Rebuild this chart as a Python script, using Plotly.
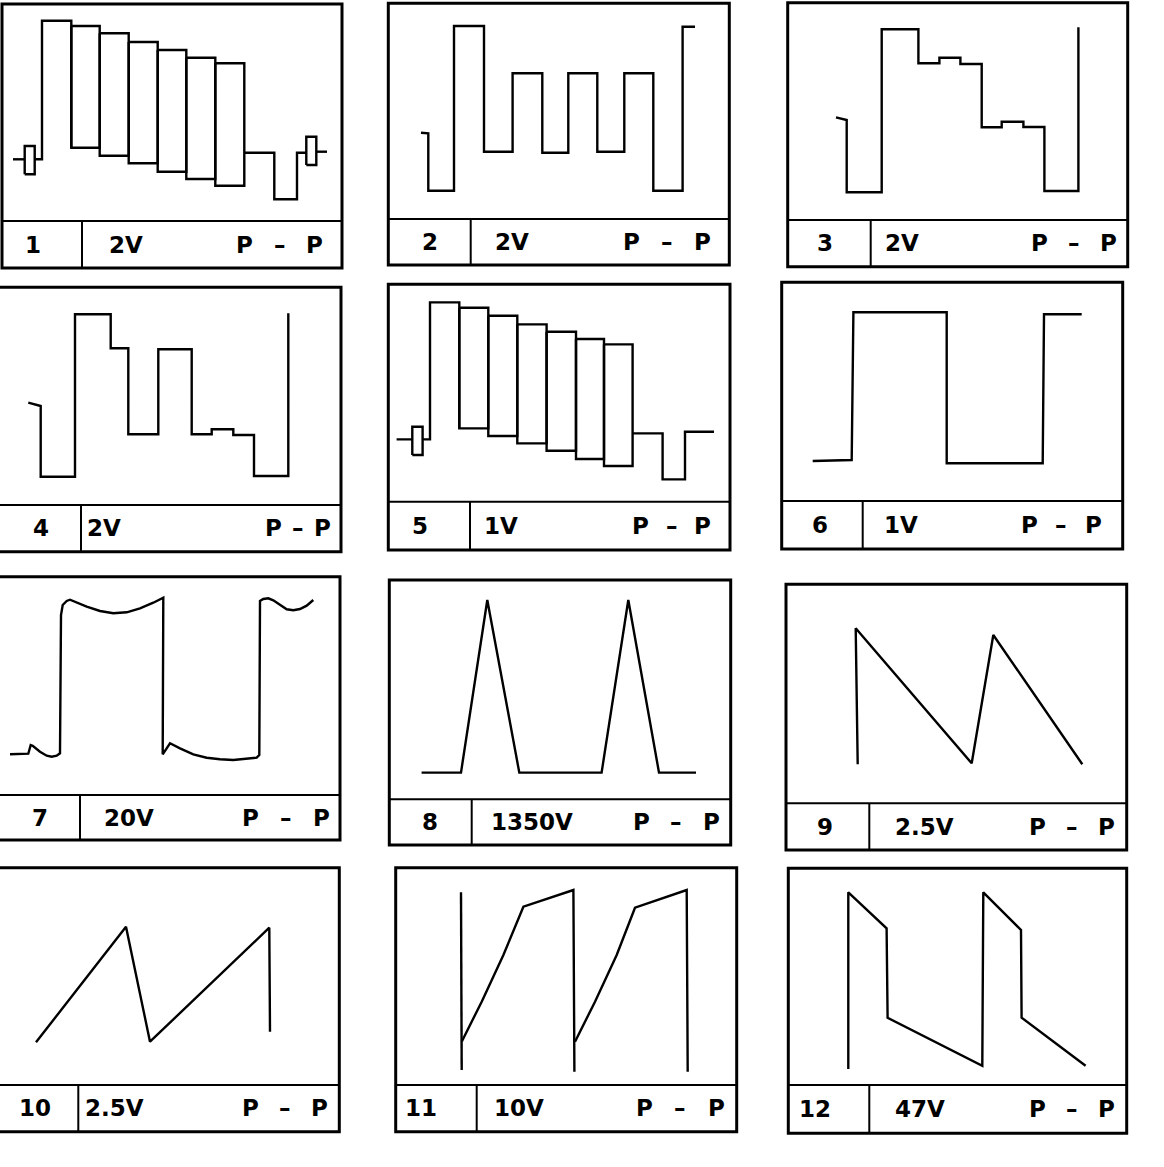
import plotly.graph_objects as go

W, H = 1164, 1167

PANEL_NUMS = ["1", "2", "3", "4", "5", "6", "7", "8", "9", "10", "11", "12"]
VOLTS = ["2V", "2V", "2V", "2V", "1V", "1V", "20V", "1350V", "2.5V", "2.5V", "10V", "47V"]

# waveforms, x = distance from the panel's left edge, y = height above the label strip

# 1 - colour bars with burst markers
P1_LEAD_X = [11, 22.7, None, 22.7, 32.7, 32.7, 22.7, 22.7, None, 32.7, 40, 40, 69.3, 69.3]
P1_LEAD_Y = [61.7, 61.7, None, 46.7, 46.7, 75, 75, 46.7, None, 61.7, 61.7, 200.3, 200.3, 73.3]
P1_BAR_EDGES = [69.3, 97.7, 126.7, 155.7, 184.3, 213.3, 242.3]
P1_BAR_TOP = [195, 187.7, 179, 171, 163.3, 157.7]
P1_BAR_BOTTOM = [73.3, 65.3, 57.7, 49.3, 42, 35.3]
P1_TAIL_X = [242.3, 272.3, 272.3, 295, 295, 304.3, None, 304.3, 314.3, 314.3, 304.3, 304.3, None, 314.3, 325]
P1_TAIL_Y = [68.3, 68.3, 21.7, 21.7, 68.3, 68.3, None, 56, 56, 84.3, 84.3, 56, None, 69.3, 69.3]

# 2
P2_X = [32.7, 40, 40, 65.7, 65.7, 95.7, 95.7, 124.3, 124.3, 154, 154, 180, 180, 209, 209, 236, 236, 265, 265, 294.3, 294.3, 306.7]
P2_Y = [86.3, 85.7, 28.3, 28.3, 193, 193, 67.3, 67.3, 145.7, 145.7, 66.3, 66.3, 145.7, 145.7, 67.3, 67.3, 145.7, 145.7, 28.3, 28.3, 192.3, 192.3]

# 3
P3_X = [48.3, 59, 59, 94, 94, 130.7, 130.7, 151.7, 151.7, 172.7, 172.7, 194, 194, 214, 214, 235.7, 235.7, 256.7, 256.7, 290.7, 290.7]
P3_Y = [102.7, 100, 27.7, 27.7, 190.7, 190.7, 156.7, 156.7, 162.3, 162.3, 156, 156, 92.7, 92.7, 98.3, 98.3, 93, 93, 29, 29, 192.7]

# 4
P4_X = [31.3, 43.7, 43.7, 78, 78, 113.7, 113.7, 131.3, 131.3, 161.3, 161.3, 194.7, 194.7, 214.7, 214.7, 236.3, 236.3, 257, 257, 291.3, 291.3]
P4_Y = [102.3, 99, 28.3, 28.3, 190.7, 190.7, 156.7, 156.7, 70.7, 70.7, 155.7, 155.7, 70.7, 70.7, 75.7, 75.7, 70, 70, 29, 29, 191.7]

# 5 - colour bars
P5_LEAD_X = [8.3, 24, None, 24, 34.3, 34.3, 24, 24, None, 34.3, 41.7, 41.7, 71, 71]
P5_LEAD_Y = [62.3, 62.3, None, 46.7, 46.7, 75, 75, 46.7, None, 62.3, 62.3, 199.3, 199.3, 73.3]
P5_BAR_EDGES = [71, 100, 129, 158.3, 187.7, 215.7, 244.3]
P5_BAR_TOP = [194, 186, 177.3, 170, 162.7, 157.3]
P5_BAR_BOTTOM = [73.3, 65.7, 58.3, 51, 42.7, 35.7]
P5_TAIL_X = [244.3, 274.3, 274.3, 296.7, 296.7, 325.7]
P5_TAIL_Y = [68.3, 68.3, 22.3, 22.3, 70, 70]

# 6
P6_X = [31, 70, 71.7, 165, 165, 261, 262.3, 300]
P6_Y = [40, 41, 188.7, 188.7, 37.7, 37.7, 186.7, 186.7]

# 7
P7_X = [13, 31.3, 33.7, 35.7, 43, 49.7, 54.7, 59.7, 63, 64, 65.7, 69.7, 73, 79.7, 89.7, 103, 116.3, 129.7,
        143, 156.3, 166.3, 165.7, 173, 183, 196.3, 209.7, 223, 236.3, 249.7, 259.7, 262.3, 263, 266.3,
        271.3, 276.3, 283, 289.7, 296.3, 303, 309.7, 316.3]
P7_Y = [40.7, 41.3, 50, 49.3, 43.3, 39.3, 38.3, 39.3, 41.7, 180, 190, 194, 195.3, 192.7, 188.3, 184, 181.7, 182.7,
        186.7, 192.3, 197.3, 40.7, 51.7, 46.7, 40.7, 37.3, 35.7, 35, 36, 37.3, 40, 194, 196,
        196.7, 194.7, 190, 185.7, 184.7, 186, 189.3, 195]

# 8
P8_X = [32.3, 71.7, 98, 130, 212.3, 239, 269.7, 306.7]
P8_Y = [26.7, 26.7, 199.3, 26.7, 26.7, 199.3, 26.7, 26.7]

# 9
P9_X = [71.7, 69.7, 185.7, 207.3, 296.3]
P9_Y = [39, 175, 40, 168.3, 39]

# 10
P10_X = [42, 132, 156, 275.3, 276]
P10_Y = [42.7, 158.3, 43.3, 157.3, 53.3]

# 11
P11_X = [65.3, 66, None, 66, 86, 107.7, 127.7, 177.7, 178.7, None, 179.3, 199.3, 221, 239.3, 291, 292]
P11_Y = [192.7, 15, None, 43.3, 83.3, 130, 178.3, 195, 13.3, None, 43.3, 83.3, 130, 177.3, 195, 13.3]

# 12
P12_X = [60, 60, 98.3, 99.3, 194, 195, 232.7, 233.3, 297.3]
P12_Y = [16, 192.7, 156.7, 67.3, 19.3, 192.7, 155, 67.3, 19.3]


def bar_path(edges, tops, bottoms):
    xs, ys = [], []
    for i in range(len(tops)):
        x0, x1 = edges[i], edges[i + 1]
        xs += [x0, x1, x1, x0, x0, None]
        ys += [tops[i], tops[i], bottoms[i], bottoms[i], tops[i], None]
    return xs, ys


b1x, b1y = bar_path(P1_BAR_EDGES, P1_BAR_TOP, P1_BAR_BOTTOM)
b5x, b5y = bar_path(P5_BAR_EDGES, P5_BAR_TOP, P5_BAR_BOTTOM)

WAVES = [
    (P1_LEAD_X + [None] + b1x + P1_TAIL_X, P1_LEAD_Y + [None] + b1y + P1_TAIL_Y),
    (P2_X, P2_Y),
    (P3_X, P3_Y),
    (P4_X, P4_Y),
    (P5_LEAD_X + [None] + b5x + P5_TAIL_X, P5_LEAD_Y + [None] + b5y + P5_TAIL_Y),
    (P6_X, P6_Y),
    (P7_X, P7_Y),
    (P8_X, P8_Y),
    (P9_X, P9_Y),
    (P10_X, P10_Y),
    (P11_X, P11_Y),
    (P12_X, P12_Y),
]

# panel boxes on the page (px): left, top, right, bottom, strip top, divider,
# volt label offset from divider, "P" offsets from the right edge, number x shift
BOXES = [
    (2, 4, 342, 268, 221, 82, 25, 108, 17, -9),
    (388.3, 3.3, 729.3, 265, 219, 470.7, 22, 108, 16, 0),
    (787.7, 2.7, 1127.7, 266.7, 220, 870.7, 12, 99, 9, -4),
    (-3, 287.3, 341, 551.7, 505, 81, 4, 78, 8, 2),
    (388.3, 284.3, 730, 550, 501.7, 470, 12, 100, 17, -9),
    (781.7, 282.3, 1122.7, 549, 501, 862.7, 19, 104, 19, -2),
    (-3, 576.7, 340, 840, 795, 80, 22, 100, 8, 1),
    (389.3, 580, 730.7, 845, 799.3, 471.7, 17, 100, 9, -1),
    (786, 584.3, 1126.7, 850, 803.3, 869.3, 24, 100, 10, -3),
    (-6, 867.7, 339.3, 1131.7, 1085, 78.3, 5, 99, 9, -1),
    (395.7, 867.7, 736.7, 1131.7, 1085, 476.7, 15, 103, 10, -15),
    (788.3, 868.3, 1126.7, 1133.3, 1085, 869.3, 24, 100, 10, -14),
]

PAD = 4
FONT = dict(family="DejaVu Sans, sans-serif", size=23, color="black")

fig = go.Figure()
shapes = []
annotations = []
layout_axes = {}

for i, (L, T, R, B, ST, DV, vdx, ppl, ppr, ndx) in enumerate(BOXES):
    n = i + 1
    sfx = "" if n == 1 else str(n)
    xr, yr = "x" + sfx, "y" + sfx

    px0, px1 = max(L - PAD, 0), min(R + PAD, W)
    py0, py1 = max(T - PAD, 0), min(B + PAD, H)
    layout_axes["xaxis" + sfx] = dict(domain=[px0 / W, px1 / W], range=[px0 - L, px1 - L],
                                       visible=False, fixedrange=True, anchor=yr)
    layout_axes["yaxis" + sfx] = dict(domain=[1 - py1 / H, 1 - py0 / H], range=[ST - py1, ST - py0],
                                       visible=False, fixedrange=True, anchor=xr)

    wx, wy = WAVES[i]
    fig.add_trace(go.Scatter(x=wx, y=wy, mode="lines", xaxis=xr, yaxis=yr,
                             line=dict(color="black", width=2.4), hoverinfo="skip",
                             showlegend=False))

    w, top, bot = R - L, ST - T, ST - B
    shapes.append(dict(type="rect", xref=xr, yref=yr, x0=0, x1=w, y0=bot, y1=top,
                       line=dict(color="black", width=3)))
    shapes.append(dict(type="line", xref=xr, yref=yr, x0=0, x1=w, y0=0, y1=0,
                       line=dict(color="black", width=2)))
    shapes.append(dict(type="line", xref=xr, yref=yr, x0=DV - L, x1=DV - L, y0=0, y1=bot,
                       line=dict(color="black", width=2)))

    ymid = bot / 2
    annotations.append(dict(xref=xr, yref=yr, x=(DV - L) / 2 + ndx, y=ymid, text="<b>%s</b>" % PANEL_NUMS[i],
                            showarrow=False, xanchor="center", yanchor="middle", font=FONT))
    annotations.append(dict(xref=xr, yref=yr, x=DV - L + vdx, y=ymid, text="<b>%s</b>" % VOLTS[i],
                            showarrow=False, xanchor="left", yanchor="middle", font=FONT))
    annotations.append(dict(xref=xr, yref=yr, x=w - ppl, y=ymid, text="<b>P</b>",
                            showarrow=False, xanchor="left", yanchor="middle", font=FONT))
    annotations.append(dict(xref=xr, yref=yr, x=w - ppr, y=ymid, text="<b>P</b>",
                            showarrow=False, xanchor="right", yanchor="middle", font=FONT))
    annotations.append(dict(xref=xr, yref=yr, x=w - (ppl + ppr) / 2, y=ymid, text="<b>–</b>",
                            showarrow=False, xanchor="center", yanchor="middle", font=FONT))

fig.update_layout(
    width=W, height=H,
    margin=dict(l=0, r=0, t=0, b=0),
    paper_bgcolor="white", plot_bgcolor="white",
    shapes=shapes, annotations=annotations,
    **layout_axes
)

fig.write_html("out.html", config={"displayModeBar": False},
               post_script="document.body.style.margin='0';")
